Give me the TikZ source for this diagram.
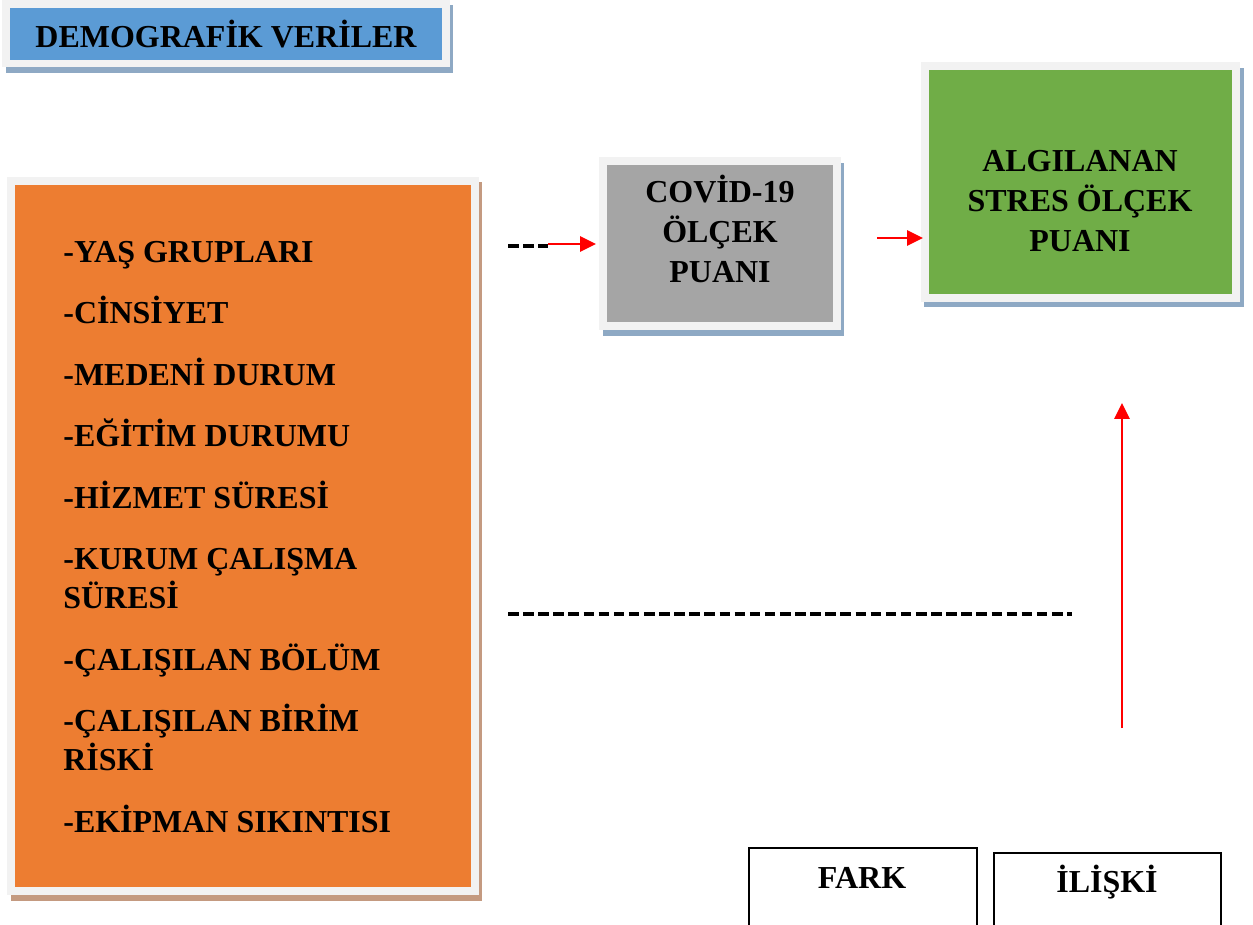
\documentclass[tikz,border=0pt]{standalone}
\usepackage{fontspec}
\setmainfont{Liberation Serif}
\usetikzlibrary{arrows.meta}
\usepackage{xcolor}

\definecolor{demoblue}{HTML}{5B9BD5}
\definecolor{demoorange}{HTML}{ED7D31}
\definecolor{covidgray}{HTML}{A5A5A5}
\definecolor{stresgreen}{HTML}{70AD47}
\definecolor{framegray}{HTML}{F2F2F2}
\definecolor{shblue}{HTML}{8EA9C4}
\definecolor{shorange}{HTML}{C49A80}

\tikzset{
    box/.style={draw=framegray, line width=0.16cm, inner sep=0pt,
        preaction={draw=#1, fill=#1, line width=0.16cm,
            transform canvas={xshift=0.07cm, yshift=-0.11cm}}},
    lbl/.style={font=\fontsize{18.2}{22.7}\selectfont\bfseries, inner sep=0pt, align=center},
    dashline/.style={black, line width=1.9pt, dash pattern=on 6pt off 2.6pt},
    redarrow/.style={red, line width=1.6pt, -{Triangle[length=9pt, width=8.5pt]}},
    smallbox/.style={draw=black, line width=1.1pt, inner sep=0pt, anchor=north west, minimum height=2.86cm}
}

\begin{document}
\begin{tikzpicture}[x=0.02cm, y=-0.02cm]

\clip (0,0) rectangle (1253,924);

% kutular
\node[box=shblue, fill=demoblue, minimum width=8.79cm, minimum height=1.2cm] (demo) at (226,33.5) {};
\node[box=shorange, fill=demoorange, minimum width=9.28cm, minimum height=14.21cm] (list) at (243,536) {};
\node[box=shblue, fill=covidgray, minimum width=4.68cm, minimum height=3.31cm] (covid) at (720,243.75) {};
\node[box=shblue, fill=stresgreen, minimum width=6.24cm, minimum height=4.64cm] (stres) at (1080.5,182) {};

% (base = son satir)
\node[lbl, anchor=base] (demotxt) at (226,47) {DEMOGRAFİK VERİLER};
\node[lbl, anchor=base] (covidtxt) at (720,282) {COVİD-19\\ÖLÇEK\\PUANI};
\node[lbl, anchor=base] (strestxt) at (1080,251) {ALGILANAN\\STRES ÖLÇEK\\PUANI};

% demografik degiskenler
\def\items{262/-YAŞ GRUPLARI, 323.5/-CİNSİYET, 385/-MEDENİ DURUM, 446.5/-EĞİTİM DURUMU,
    508/-HİZMET SÜRESİ, 569.5/-KURUM ÇALIŞMA, 608.5/SÜRESİ, 670/-ÇALIŞILAN BÖLÜM,
    731.5/-ÇALIŞILAN BİRİM, 770.5/RİSKİ, 832/-EKİPMAN SIKINTISI}

\foreach [count=\i] \y/\txt in \items {
    \node[lbl, anchor=base west] (item\i) at (63,\y) {\txt};
}

% fark / iliski
\node[smallbox, minimum width=4.56cm] (fark) at (748,847) {};
\node[smallbox, minimum width=4.54cm] (iliski) at (993,852) {};
\node[lbl, anchor=base] (farktxt) at (862,888) {FARK};
\node[lbl, anchor=base] (iliskitxt) at (1107,892) {İLİŞKİ};

% oklar
\coordinate (d1) at (508,246);
\coordinate (d2) at (548,246);
\coordinate (c1) at (596,244);
\coordinate (s0) at (877,238);
\coordinate (s1) at (923,238);
\coordinate (u0) at (1122,728);
\coordinate (u1) at (1122,403);
\coordinate (l0) at (508,614);
\coordinate (l1) at (1072,614);

\draw[dashline] (d1) -- (d2);
\draw[redarrow] (d2 |- c1) -- (c1);
\draw[redarrow] (s0) -- (s1);
\draw[redarrow] (u0) -- (u1);
\draw[dashline] (l0) -- (l1);

\end{tikzpicture}
\end{document}
